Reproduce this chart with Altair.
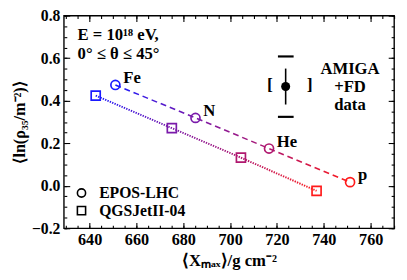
import altair as alt
import pandas as pd

# ---- data ----
species = ["Fe", "N", "He", "p"]
epos_x = [651.0, 685.2, 716.6, 751.2]
epos_y = [0.474, 0.319, 0.175, 0.017]
qgs_x = [642.6, 675.1, 704.6, 736.9]
qgs_y = [0.424, 0.271, 0.132, -0.024]
species_colors = ["#1a1aff", "#7a1aaa", "#b0186f", "#ff1a1a"]

x_major = [640, 660, 680, 700, 720, 740, 760]
x_minor = [630 + 5 * i for i in range(29)]
y_major = [-0.2, 0.0, 0.2, 0.4, 0.6, 0.8]
y_minor = [round(-0.2 + 0.05 * i, 2) for i in range(21)]

# AMIGA+FD data uncertainty indicator
amiga_x = [723.7]
amiga_y = [0.467]
amiga_stat_lo = [0.382]
amiga_stat_hi = [0.551]
amiga_sys_x = [717.0, 734.0]
amiga_sys_brackets = ["[", "]"]
amiga_sys_y = [0.324, 0.608]
amiga_bar_x = [720.4]
amiga_bar_x2 = [727.1]

legend_labels = ["EPOS-LHC", "QGSJetII-04"]
legend_shapes = ["circle", "square"]

FONT = "Liberation Serif"
FS = 17
XDOM = [629, 770]
YDOM = [-0.2, 0.8]

xs = alt.Scale(domain=XDOM, nice=False, zero=False)
ys = alt.Scale(domain=YDOM, nice=False, zero=False)

epos = pd.DataFrame({"x": epos_x, "y": epos_y, "s": species})
qgs = pd.DataFrame({"x": qgs_x, "y": qgs_y, "s": species})

color_enc = alt.Color("s:N", scale=alt.Scale(domain=species, range=species_colors), legend=None)

def label_axes():
    ax = alt.Axis(orient="bottom", values=x_major, format="d", tickSize=0, domain=False, grid=False,
                  labelPadding=4, labelFont=FONT, labelFontSize=16.5, labelFontWeight="bold", labelColor="black",
                  title="⟨Xₘₐₓ⟩/g cm⁻²", titleFont=FONT, titleFontSize=FS, titleFontWeight="bold",
                  titleColor="black", titlePadding=5)
    ay = alt.Axis(orient="left", values=y_major, format=".1f", tickSize=0, domain=False, grid=False,
                  labelPadding=4, labelFont=FONT, labelFontSize=16, labelFontWeight="bold", labelColor="black",
                  title="⟨ln(ρ₃₅/m⁻²)⟩", titleFont=FONT, titleFontSize=16.5, titleFontWeight="bold",
                  titleColor="black", titlePadding=4)
    return ax, ay

def tick_axis(orient, values, size):
    return alt.Axis(orient=orient, values=values, tickSize=size, offset=-size, labels=False, domain=False,
                    grid=False, tickColor="black", tickWidth=1.1)

grad = alt.Gradient(gradient="linear",
                    stops=[alt.GradientStop(color=species_colors[0], offset=0),
                           alt.GradientStop(color=species_colors[1], offset=0.34),
                           alt.GradientStop(color=species_colors[2], offset=0.66),
                           alt.GradientStop(color=species_colors[3], offset=1)],
                    x1=0, x2=1, y1=0, y2=0)

ax_l, ay_l = label_axes()

l1 = alt.Chart(epos).mark_line(color=grad, strokeDash=[6, 4], strokeWidth=1.6).encode(
    x=alt.X("x:Q", scale=xs, axis=ax_l),
    y=alt.Y("y:Q", scale=ys, axis=ay_l),
)
l2 = alt.Chart(qgs).mark_line(color=grad, strokeDash=[1.4, 1.2], strokeWidth=2).encode(
    x=alt.X("x:Q", scale=xs, axis=tick_axis("bottom", x_major, 6), title=None),
    y=alt.Y("y:Q", scale=ys, axis=tick_axis("left", y_major, 6), title=None),
)
l3 = alt.Chart(epos).mark_point(shape="circle", filled=False, size=85, strokeWidth=1.7, opacity=1).encode(
    x=alt.X("x:Q", scale=xs, axis=tick_axis("bottom", x_minor, 3), title=None),
    y=alt.Y("y:Q", scale=ys, axis=tick_axis("left", y_minor, 3), title=None),
    color=color_enc,
)
l4 = alt.Chart(qgs).mark_point(shape="square", filled=False, size=85, strokeWidth=1.7, opacity=1).encode(
    x=alt.X("x:Q", scale=xs, axis=tick_axis("top", x_major, 6), title=None),
    y=alt.Y("y:Q", scale=ys, axis=tick_axis("right", y_major, 6), title=None),
    color=color_enc,
)
l5 = alt.Chart(epos).mark_text(align="left", baseline="middle", dx=8, dy=-7, font=FONT, fontSize=FS,
                               fontWeight="bold", color="black").encode(
    x=alt.X("x:Q", scale=xs, axis=tick_axis("top", x_minor, 3), title=None),
    y=alt.Y("y:Q", scale=ys, axis=tick_axis("right", y_minor, 3), title=None),
    text="s:N",
)

# AMIGA indicator
am = pd.DataFrame({"x": amiga_x, "y": amiga_y, "lo": amiga_stat_lo, "hi": amiga_stat_hi})
am_err = alt.Chart(am).mark_rule(color="black", strokeWidth=1.6).encode(
    x=alt.X("x:Q", scale=xs, axis=None), y=alt.Y("lo:Q", scale=ys, axis=None), y2="hi:Q")
am_pt = alt.Chart(am).mark_point(shape="circle", filled=True, size=85, color="black", opacity=1).encode(
    x=alt.X("x:Q", scale=xs, axis=None), y=alt.Y("y:Q", scale=ys, axis=None))
br = pd.DataFrame({"x": amiga_sys_x, "y": amiga_y * 2, "t": amiga_sys_brackets})
am_br = alt.Chart(br).mark_text(font=FONT, fontSize=18, fontWeight="bold", color="black",
                                baseline="middle", dy=-1).encode(
    x=alt.X("x:Q", scale=xs, axis=None), y=alt.Y("y:Q", scale=ys, axis=None), text="t:N")
bars = pd.DataFrame({"x": amiga_bar_x * 2, "x2": amiga_bar_x2 * 2, "y": amiga_sys_y})
am_bars = alt.Chart(bars).mark_rule(color="black", strokeWidth=2.2).encode(
    x=alt.X("x:Q", scale=xs, axis=None), x2="x2:Q", y=alt.Y("y:Q", scale=ys, axis=None))

am_text = alt.Chart(pd.DataFrame({"t": ["AMIGA", "+FD", "data"], "py": [55, 73, 91]})).mark_text(
    font=FONT, fontSize=FS, fontWeight="bold", color="black", align="center", baseline="middle").encode(
    x=alt.value(292), y=alt.Y("py:Q", scale=None, axis=None), text="t:N")

info = alt.Chart(pd.DataFrame({"t": ["E = 10¹⁸ eV,", "0° ≤ θ ≤ 45°"], "py": [20, 39]})).mark_text(
    font=FONT, fontSize=FS, fontWeight="bold", color="black", align="left", baseline="middle").encode(
    x=alt.value(14), y=alt.Y("py:Q", scale=None, axis=None), text="t:N")

leg = pd.DataFrame({"t": legend_labels, "shape": legend_shapes, "py": [181, 199]})
leg_sym = alt.Chart(leg).mark_point(filled=False, size=70, strokeWidth=1.6, color="black", opacity=1).encode(
    x=alt.value(18), y=alt.Y("py:Q", scale=None, axis=None),
    shape=alt.Shape("shape:N", scale=alt.Scale(domain=legend_shapes, range=legend_shapes), legend=None))
leg_txt = alt.Chart(leg).mark_text(font=FONT, fontSize=16, fontWeight="bold", color="black",
                                   align="left", baseline="middle").encode(
    x=alt.value(36), y=alt.Y("py:Q", scale=None, axis=None), text="t:N")

chart = alt.layer(l1, l2, l3, l4, l5, am_err, am_bars, am_br, am_pt, am_text, info, leg_sym, leg_txt).resolve_axis(
    x="independent", y="independent"
).properties(
    width=337, height=217,
    autosize=alt.AutoSizeParams(type="none"),
    padding={"left": 57, "top": 5, "right": 5, "bottom": 50},
    background="white",
).configure_view(stroke="black", strokeWidth=1.4)

chart.save("out.html", embed_options={"renderer": "svg", "actions": False})
